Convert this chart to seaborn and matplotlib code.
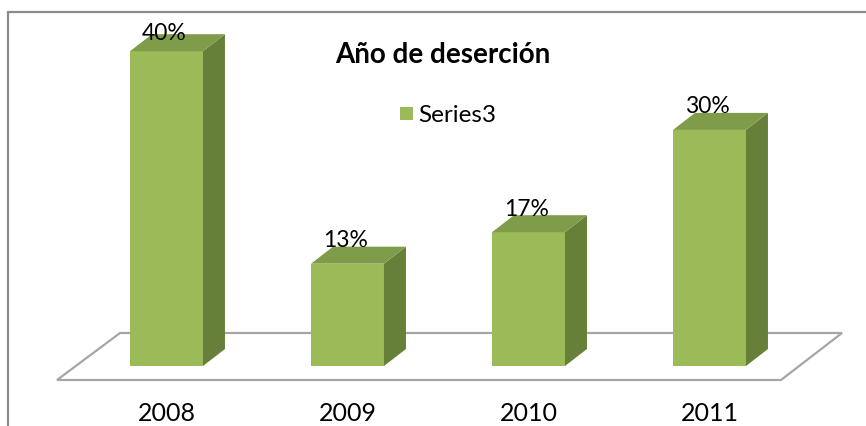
import matplotlib
matplotlib.use("Agg")
import matplotlib.pyplot as plt
from matplotlib.patches import Polygon, Rectangle
import pandas as pd
import seaborn as sns

years = ["2008", "2009", "2010", "2011"]
values = [40, 13, 17, 30]
series_name = "Series3"
title = "Año de deserción"

df = pd.DataFrame({"year": years, "pct": values})

front_col = "#9BBB59"
side_col = "#66803A"
top_col = "#7E9C49"

sns.set_theme(style="white")
plt.rcParams["font.family"] = ["Lato", "DejaVu Sans"]

fig = plt.figure(figsize=(8.66, 4.27), dpi=100)
ax = fig.add_axes([0, 0, 1, 1])

sns.barplot(data=df, x="year", y="pct", color=front_col, saturation=1,
            width=0.403, ax=ax, zorder=3, edgecolor="none")

# map pixels: category i -> 166.5 + 181*i, value v -> 367 - 7.87*v (from top)
px_x, px_y = 181.0, 7.87
ax.set_xlim(-166.5 / px_x, (866 - 166.5) / px_x)
ax.set_ylim(-60 / px_y, (427 - 60) / px_y)
ax.axis("off")

# depth offsets of the 3D effect
ddx, ddy = 22 / px_x, 17 / px_y

# floor
fx0, fx1 = (57 - 166.5) / px_x, (781 - 166.5) / px_x
bx0, bx1 = (120 - 166.5) / px_x, (842 - 166.5) / px_x
fy, by = -14 / px_y, 33 / px_y
ax.add_patch(Polygon([(fx0, fy), (fx1, fy), (bx1, by), (bx0, by)], closed=True,
                     facecolor="white", edgecolor="#A6A6A6", lw=1.6, zorder=1))

label_max = (367 - 34) / px_y
for bar, v in zip(ax.patches, values):
    if not isinstance(bar, Rectangle) or bar.get_height() == 0:
        continue
    x0 = bar.get_x()
    w = bar.get_width()
    h = bar.get_height()
    x1 = x0 + w
    ax.add_patch(Polygon([(x1, 0), (x1 + ddx, ddy), (x1 + ddx, h + ddy), (x1, h)],
                         closed=True, facecolor=side_col, edgecolor="none", zorder=3))
    ax.add_patch(Polygon([(x0, h), (x0 + ddx, h + ddy), (x1 + ddx, h + ddy), (x1, h)],
                         closed=True, facecolor=top_col, edgecolor="none", zorder=3))
    ly = min(h + 24 / px_y, label_max)
    ax.text(x0 + w / 2 - 2 / px_x, ly, f"{v}%", ha="center", va="center",
            fontsize=16.5, color="black", zorder=5)

for i, y in enumerate(years):
    ax.text(i, -47 / px_y, y, ha="center", va="center", fontsize=18, color="black")

# title and legend
fig.text(443 / 866, 1 - 55 / 427, title, ha="center", va="center",
         fontsize=20, fontweight="bold", color="black")
fig.patches.append(Rectangle((400 / 866, 1 - 121 / 427), 13 / 866, 13 / 427,
                             transform=fig.transFigure, facecolor=front_col,
                             edgecolor="none"))
fig.text(418 / 866, 1 - 115 / 427, series_name, ha="left", va="center",
         fontsize=17.5, color="black")

# chart border (right and bottom edges are cut off)
fig.patches.append(Rectangle((8 / 866, -0.05), 1.2, 1 - 13 / 427 + 0.05,
                             transform=fig.transFigure, facecolor="none",
                             edgecolor="#8C8C8C", lw=1.6))

fig.savefig("out.png", dpi=100)
